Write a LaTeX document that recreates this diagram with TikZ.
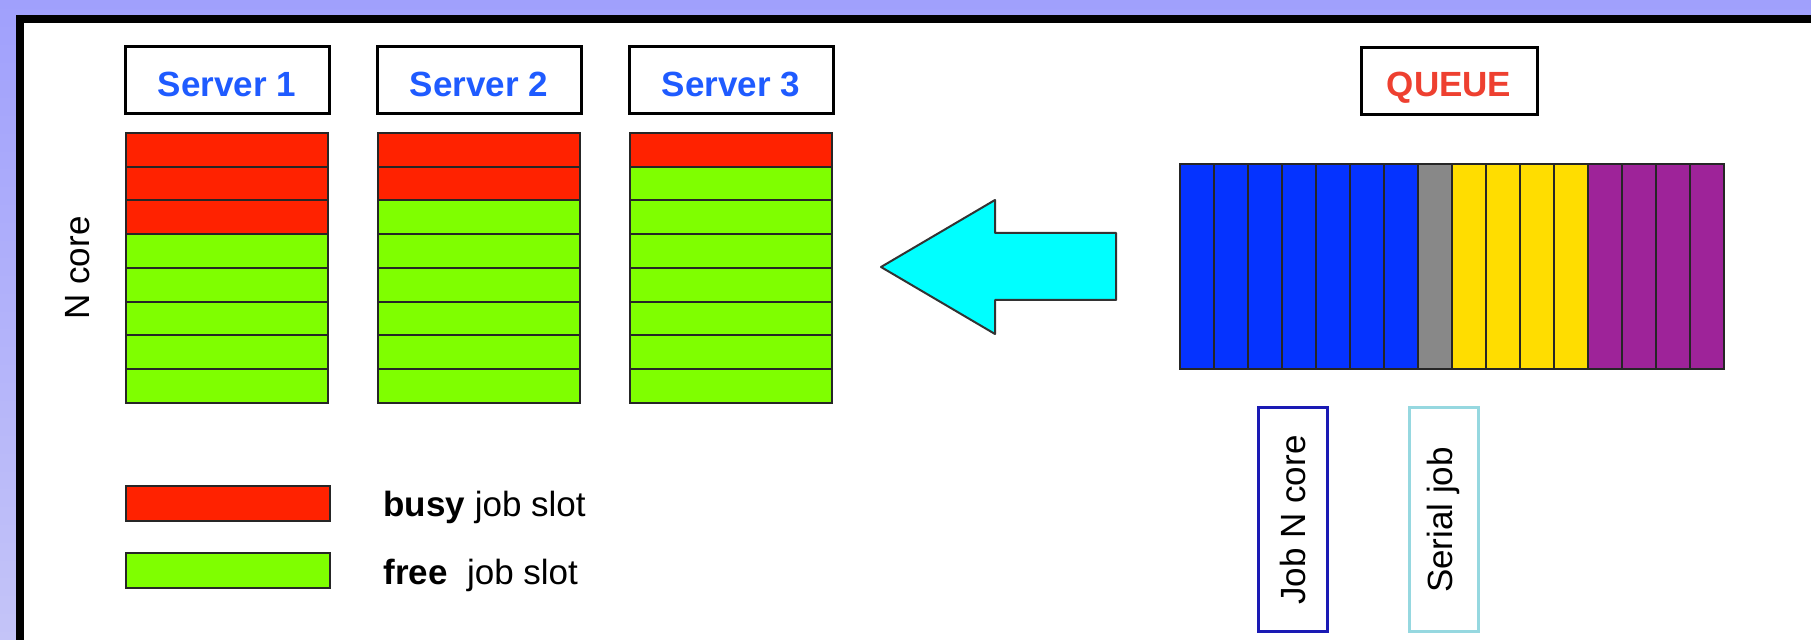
\documentclass[tikz,border=0pt]{standalone}
\usepackage{fontspec}
\setmainfont{Liberation Sans}
\definecolor{bgtop}{HTML}{A0A0FC}
\definecolor{bgbot}{HTML}{C4C4F8}
\definecolor{slotred}{HTML}{FF2200}
\definecolor{slotgreen}{HTML}{7FFF00}
\definecolor{srvblue}{HTML}{1F5BFF}
\definecolor{queuered}{HTML}{EE4030}
\definecolor{qblue}{HTML}{0533FF}
\definecolor{qgray}{HTML}{888888}
\definecolor{qyellow}{HTML}{FFDD00}
\definecolor{qpurple}{HTML}{9E2399}
\definecolor{arrowcyan}{HTML}{00FFFF}
\definecolor{jobblue}{HTML}{1A1AB4}
\definecolor{serialcyan}{HTML}{96D8E0}
\newcommand\labelfont{\fontsize{17.5}{21}\selectfont}
\begin{document}
\begin{tikzpicture}[x=0.5pt,y=-0.5pt,
    slot/.style={draw=black!85,line width=1pt,minimum width=101pt,
      minimum height=16.875pt,inner sep=0pt,outer sep=0pt},
    label box/.style={draw,line width=1.5pt,fill=white,minimum width=102pt,
      minimum height=33.5pt,inner sep=0pt,text height=16pt,text depth=0pt,
      font=\labelfont\bfseries},
    qcol/.style={draw=black!85,line width=1pt,minimum width=17pt,
      minimum height=102.5pt,inner sep=0pt,outer sep=0pt},
    job box/.style={line width=1.5pt,rotate=90,minimum width=112pt,
      minimum height=34.5pt,inner sep=0pt,font=\labelfont},
    legend text/.style={anchor=west,inner sep=0pt,font=\labelfont}]
    \useasboundingbox (0,0) rectangle (1811,640);
    \clip (0,0) rectangle (1811,640);
    \shade[top color=bgtop,bottom color=bgbot] (0,0) rectangle (1811,640);
    \draw[line width=4pt,fill=white] (20,19) rectangle (1900,720);

    \node[rotate=90,font=\labelfont,inner sep=0pt] (ncore) at (78,268) {N core};

    \foreach \s/\nb [count=\i] in {227/3,479/2,731/1} {
      \node[label box,text=srvblue] (srv\i) at (\s,80.5) {Server \i};
      \foreach \r in {1,...,8} {
        \ifnum\r>\nb \def\kind{slotgreen}\else\def\kind{slotred}\fi
        \node[slot,fill=\kind] (srv\i-\r) at (\s,{133+33.75*(\r-0.5)}) {};
      }
    }

    \draw[draw=black!80,line width=1pt,fill=arrowcyan,line join=round]
      (1116,233) -- (995,233) -- (995,200) -- (881,267) -- (995,334)
      -- (995,300) -- (1116,300) -- cycle;

    \node[label box,minimum width=88pt,text=queuered] (queue) at (1449,81) {QUEUE};
    \foreach \c [count=\j] in {qblue,qblue,qblue,qblue,qblue,qblue,qblue,qgray,
        qyellow,qyellow,qyellow,qyellow,qpurple,qpurple,qpurple,qpurple}
      \node[qcol,fill=\c] (q\j) at ({1180+34*(\j-0.5)},266.5) {};

    \node[job box,draw=jobblue] (jobn) at (1292.5,520) {Job N core};
    \node[job box,draw=serialcyan] (serial) at (1443.5,520) {Serial job};

    \node[slot,fill=slotred,minimum width=102pt,minimum height=17.5pt] (lbusy) at (228,503.5) {};
    \node[legend text] (tbusy) at (383,507.5) {\textbf{busy} job slot};
    \node[slot,fill=slotgreen,minimum width=102pt,minimum height=17.5pt] (lfree) at (228,570.5) {};
    \node[legend text] (tfree) at (383,575) {\textbf{free}\ \ job slot};
  \end{tikzpicture}
\end{document}
